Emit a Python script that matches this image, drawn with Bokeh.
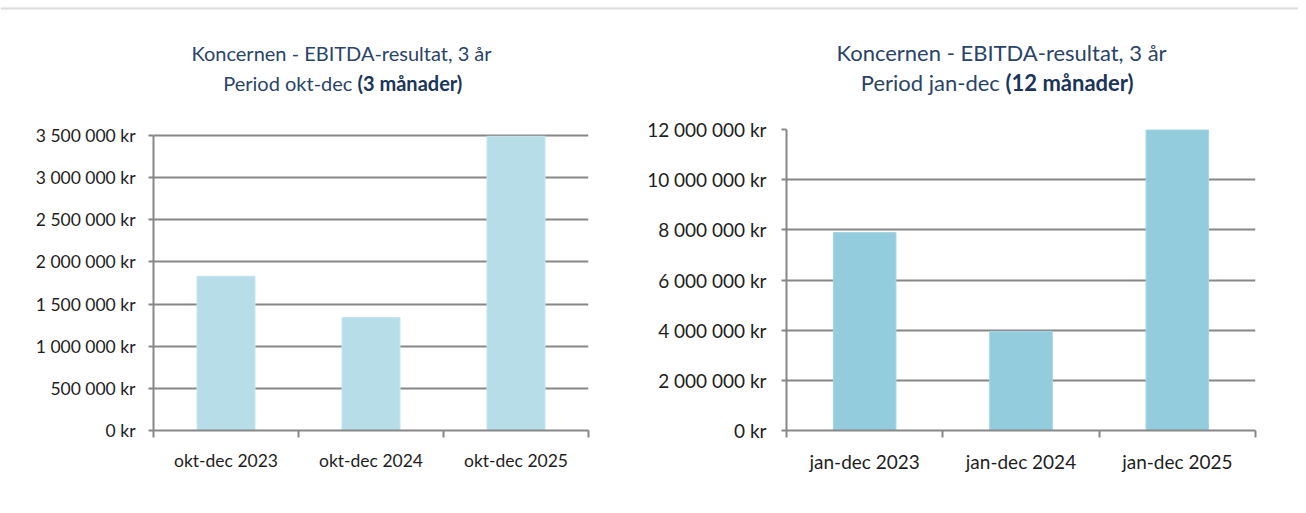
from bokeh.plotting import figure
from bokeh.models import FixedTicker, ColumnDataSource, Span
from bokeh.layouts import row, column
from bokeh.core.properties import value
from bokeh.embed import file_html
from bokeh.resources import INLINE

# ---- data ----
categories_q = ["okt-dec 2023", "okt-dec 2024", "okt-dec 2025"]
ebitda_q = [1830000, 1340000, 3490000]
yticks_q = [0, 500000, 1000000, 1500000, 2000000, 2500000, 3000000, 3500000]

categories_y = ["jan-dec 2023", "jan-dec 2024", "jan-dec 2025"]
ebitda_y = [7890000, 3950000, 11990000]
yticks_y = [0, 2000000, 4000000, 6000000, 8000000, 10000000, 12000000]

title1 = "Koncernen - EBITDA-resultat, 3 år"
title2_q = ("Period okt-dec ", "(3 månader)")
title2_y = ("Period jan-dec ", "(12 månader)")

FONT = "Lato"
GRID = "#878787"
TITLE_C = "#2A4468"
TITLE_B = "#1B3558"
TICK_C = "#1e1e1e"
TITLE_END = 110  # page y where the chart figures start
W1, W2 = 638, 660
WT = W1 + W2
FRAME_TOP = 129  # common frame top (rows align the frames)


def fmt(v):
    return f"{v:,} kr".replace(",", " ")


# one full-width header figure; data coordinates == page pixels
t = figure(width=WT, height=TITLE_END, output_backend="svg", toolbar_location=None,
           x_range=(0, WT), y_range=(TITLE_END, 0),
           min_border_left=0, min_border_right=0, min_border_top=0, min_border_bottom=0,
           x_axis_type=None, y_axis_type=None)
t.grid.visible = False
t.outline_line_color = None
t.add_layout(Span(location=8, dimension="width", line_color="#dcdcdc", line_width=2))


def add_title(t2, cx, split, y1, y2, fs):
    t.text(x=[cx], y=[y1], text=[title1], text_align="center", text_baseline="middle",
           text_font=value(FONT), text_font_size=f"{fs}px", text_color=TITLE_C)
    t.text(x=[split], y=[y2], text=[t2[0]], text_align="right", text_baseline="middle",
           text_font=value(FONT), text_font_size=f"{fs}px", text_color=TITLE_C)
    t.text(x=[split], y=[y2], text=[t2[1]], text_align="left", text_baseline="middle",
           text_font=value(FONT), text_font_size=f"{fs}px", text_color=TITLE_B,
           text_font_style="bold")


def make_chart(cats, vals, yticks, width, height, mb_left, mb_right, mb_bottom,
               fill, line, font_size, standoff_y, top_px, bottom_px):
    n = len(cats)
    xs = [i + 0.5 for i in range(n)]
    src = ColumnDataSource(dict(x=xs, top=vals))
    # range end chosen so that the top tick sits at page y = top_px
    y_end = yticks[-1] * (bottom_px - FRAME_TOP) / (bottom_px - top_px)
    p = figure(width=width, height=height, output_backend="svg", toolbar_location=None,
               x_range=(0, n), y_range=(0, y_end),
               min_border_left=mb_left, min_border_right=mb_right,
               min_border_top=FRAME_TOP - TITLE_END, min_border_bottom=mb_bottom)
    p.outline_line_color = None
    p.vbar(x="x", top="top", width=0.4, bottom=0, source=src,
           fill_color=fill, line_color=line, line_width=1)

    p.xaxis.ticker = FixedTicker(ticks=xs, minor_ticks=list(range(n + 1)))
    p.xaxis.major_label_overrides = {x: c for x, c in zip(xs, cats)}
    p.xaxis.major_tick_in = 0
    p.xaxis.major_tick_out = 0
    p.xaxis.minor_tick_in = 0
    p.xaxis.minor_tick_out = 7
    p.xaxis.minor_tick_line_color = GRID
    p.xaxis.minor_tick_line_width = 2
    p.xaxis.axis_line_color = GRID
    p.xaxis.axis_line_width = 2
    p.xaxis.major_label_standoff = 12
    p.xaxis.major_label_text_font = FONT
    p.xaxis.major_label_text_font_size = f"{font_size}px"
    p.xaxis.major_label_text_color = TICK_C
    p.xgrid.visible = False

    p.yaxis.ticker = FixedTicker(ticks=yticks, minor_ticks=[])
    p.yaxis.bounds = (yticks[0], yticks[-1])
    p.yaxis.major_label_overrides = {v: fmt(v) for v in yticks}
    p.yaxis.major_tick_in = 0
    p.yaxis.major_tick_out = 5
    p.yaxis.major_tick_line_color = GRID
    p.yaxis.major_tick_line_width = 2
    p.yaxis.axis_line_color = GRID
    p.yaxis.axis_line_width = 2
    p.yaxis.major_label_standoff = standoff_y
    p.yaxis.major_label_text_font = FONT
    p.yaxis.major_label_text_font_size = f"{font_size}px"
    p.yaxis.major_label_text_color = TICK_C
    p.ygrid.grid_line_color = GRID
    p.ygrid.grid_line_width = 2
    return p


H = 505 - TITLE_END

add_title(title2_q, cx=341, split=357, y1=52, y2=82, fs=20)
add_title(title2_y, cx=1001, split=1005, y1=52, y2=82, fs=22)

p1 = make_chart(categories_q, ebitda_q, yticks_q, W1, H,
                mb_left=153, mb_right=W1 - 588, mb_bottom=505 - 430,
                fill="#B7DEE8", line="#C6E5EE", font_size=17.5, standoff_y=13,
                top_px=135, bottom_px=430)
p2 = make_chart(categories_y, ebitda_y, yticks_y, W2, H,
                mb_left=786 - W1, mb_right=WT - 1255, mb_bottom=505 - 433,
                fill="#93CDDD", line="#A3D5E3", font_size=19, standoff_y=15,
                top_px=129, bottom_px=433)

layout = column(t, row(p1, p2))
open("out.html", "w").write(file_html(layout, INLINE))
